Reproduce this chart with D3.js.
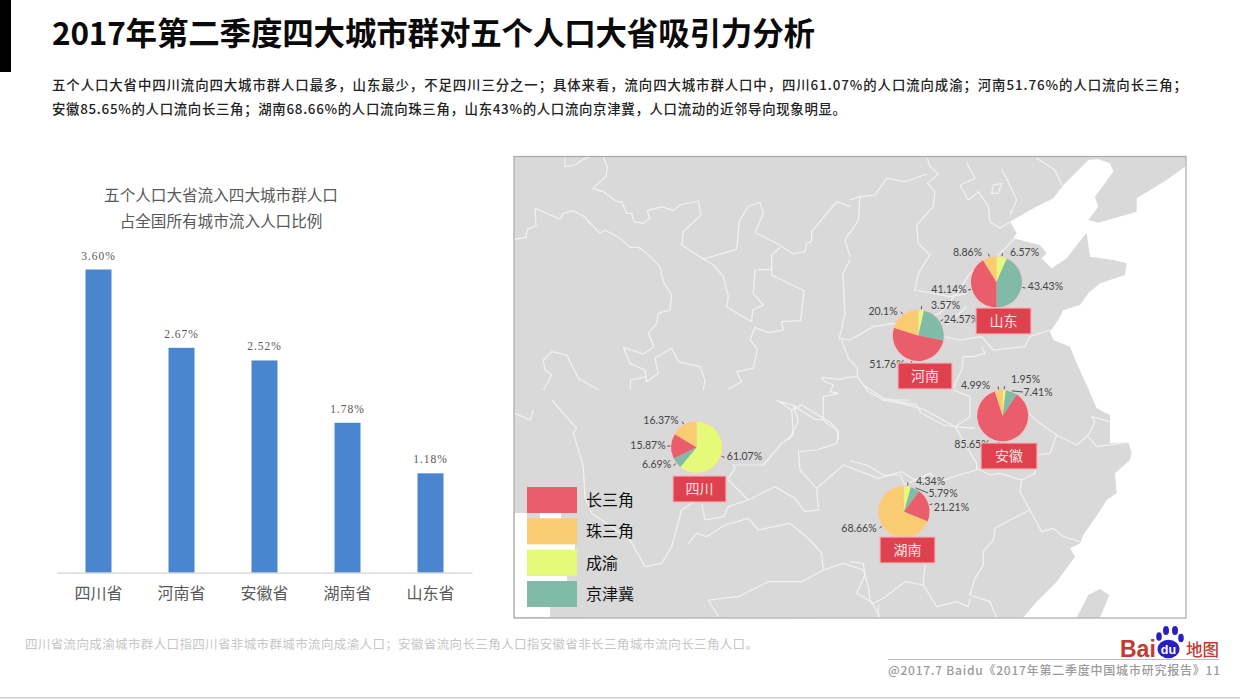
<!DOCTYPE html>
<html><head><meta charset="utf-8">
<script src="https://cdn.jsdelivr.net/npm/d3@7/dist/d3.min.js"></script>
<style>html,body{margin:0;padding:0;background:#fff;overflow:hidden}svg{display:block}text{font-family:"Noto Sans CJK SC",sans-serif}</style>
</head><body><svg id="c" width="1240" height="700"></svg>
<script>
// ---------- data ----------
const provinces = ["四川省","河南省","安徽省","湖南省","山东省"];
const shares = [3.60,2.67,2.52,1.78,1.18];
const shareLabels = ["3.60%","2.67%","2.52%","1.78%","1.18%"];
const regions = ["成渝","京津冀","长三角","珠三角"];
const legendOrder = ["长三角","珠三角","成渝","京津冀"];
const sichuan = [61.07,6.69,15.87,16.37];
const henan = [3.57,24.57,51.76,20.1];
const anhui = [1.95,7.41,85.65,4.99];
const hunan = [4.34,5.79,21.21,68.66];
const shandong = [6.57,43.43,41.14,8.86];

// ---------- layout ----------
const regionColor = d3.scaleOrdinal(regions,["#e6fa7a","#7fbba6","#ea5d6b","#f9cc72"]);
const pieLayout = [
 {name:"四川",v:sichuan,cx:696.7,cy:447.3,tag:[673,476,53,26],lab:[[744.5,456.5],[656.5,464],[648,445],[661,420]]},
 {name:"河南",v:henan,cx:918.3,cy:335.5,tag:[898,363,54,26],lab:[[945.5,305],[961.5,318.7],[887,364],[883,310.7]],far:[]},
 {name:"安徽",v:anhui,cx:1002.7,cy:415.7,tag:[981,443,56,26],lab:[[1025.5,379.5],[1038,392],[972,443.7],[975.5,385]],far:[1]},
 {name:"湖南",v:hunan,cx:904,cy:511.7,tag:[880,537,55,26],lab:[[930.5,481],[943,493],[951.5,507.5],[859,528]],far:[1]},
 {name:"山东",v:shandong,cx:996.5,cy:282,tag:[976,308,55,26],lab:[[1024.5,252],[1045.5,286],[949,288.7],[967.5,252]]}
];
const R = 25.5;

// map backdrop outlines; [originX, originY] + points at 3x
const land = [[514,157,[[0,0],[2016,0]]],
 [850,150,[[1005,50],[950,90],[860,145],[860,185],[745,218],[715,210],[745,170],[735,140],[790,65],[780,40],[745,28],[715,30],[640,105],[610,145],[550,175],[480,215],[500,250],[490,265],[570,285],[590,310],[575,325],[605,355],[650,325],[700,260],[710,250],[720,320],[790,330],[830,340],[825,375],[750,400],[715,430],[690,465],[640,480],[625,510],[600,545],[610,570],[660,590],[680,640],[710,705]]],
 [850,385,[[740,70],[780,90],[780,175],[835,172],[845,205],[840,225],[795,265],[800,325],[770,345],[745,385],[700,450],[690,475],[660,490],[675,515],[635,570],[620,590],[560,650],[520,697],[0,697]]],
 [514,157,[[0,1384]]]];
const taiwan = [850,385,[[680,698],[715,630],[750,612],[778,630],[750,698]]];
const borders = [
 [510,150,[[165,25],[165,50],[195,45],[220,28],[240,20]]],
 [510,150,[[280,22],[292,50],[288,80],[248,115],[280,125],[320,155],[335,155],[350,190],[365,190],[372,215],[400,220],[420,205],[412,182],[455,170],[490,182],[510,165],[565,153],[573,195],[520,245],[515,285],[580,327],[680,298],[688,215],[715,168],[750,157],[760,190],[735,248],[800,280],[850,312],[885,305],[890,280],[905,275],[905,245],[980,155],[1020,170]]],
 [510,150,[[12,268],[48,262],[52,238],[78,228],[75,175],[150,207],[160,190],[190,182],[220,198],[270,250],[285,240],[330,265],[360,292],[385,292],[410,310],[450,350],[460,395],[485,435],[480,480],[445,490],[440,520],[415,550],[432,590],[400,612],[340,592],[360,640],[405,660],[410,695],[445,670],[435,625],[485,595],[505,635],[570,650],[585,690],[580,720]]],
 [510,150,[[580,327],[610,345],[640,380],[655,440],[650,470],[690,495],[725,515],[728,480],[760,465],[730,430],[735,360],[785,358]]],
 [510,150,[[810,292],[785,315],[785,375],[882,422],[872,512],[815,515],[820,540],[775,548],[735,532],[720,570],[742,597],[730,655],[680,665],[695,695],[655,718]]],
 [510,150,[[100,720],[125,675],[105,660],[100,630],[125,605],[170,615],[205,685],[265,720]]],
 [510,150,[[360,720],[362,690],[410,680]]],
 [510,150,[[1020,245],[1005,270],[1020,320]]],
 [510,150,[[1020,330],[998,370],[1005,490],[988,565],[1020,570]]],
 [780,340,[[185,0],[205,55],[232,85],[232,110],[265,155],[310,180],[390,180]]],
 [780,340,[[232,110],[205,112],[180,118],[125,112],[135,125],[160,135],[150,155],[175,160],[130,170],[130,240],[105,238],[60,210],[40,195],[0,185]]],
 [780,340,[[130,240],[140,250],[175,270],[175,300]]],
 [780,340,[[40,195],[55,245],[25,300]]],
 [850,150,[[232,25],[240,50],[265,72],[232,100],[255,125],[250,170],[200,225],[205,280],[240,315],[205,370],[195,420],[300,440],[350,430]]],
 [850,150,[[0,150],[30,140],[75,135],[110,85],[165,95],[232,72]]],
 [850,150,[[30,140],[25,210],[0,250]]],
 [850,150,[[350,40],[375,85],[330,105],[355,150],[385,125],[415,170],[420,215],[450,235],[480,215]]],
 [850,150,[[430,105],[455,100],[445,130],[425,130],[430,105]]],
 [850,150,[[455,60],[470,85],[500,150],[480,195]]],
 [850,150,[[560,25],[615,60],[635,105]]],
 [850,150,[[500,260],[440,320],[360,370],[320,430],[270,490],[240,500]]],
 [850,150,[[350,470],[290,525]]],
 [850,150,[[0,570],[70,530],[130,520],[280,560],[330,570],[395,560],[430,600],[525,590],[540,560],[600,540]]],
 [850,150,[[395,590],[405,610],[370,620],[340,620],[335,660],[310,715]]],
 [850,385,[[40,0],[100,40],[200,60],[215,85],[280,120],[315,125],[360,95],[360,35],[310,15]]],
 [850,385,[[315,125],[380,235],[380,255],[325,270],[270,290],[240,265],[195,285],[165,300],[150,270],[100,270],[50,240],[0,228]]],
 [850,385,[[520,70],[570,115],[620,150],[600,205],[560,210],[555,265],[515,285],[510,320],[540,375],[470,410],[435,430],[430,465],[400,500],[400,540],[375,580],[360,630],[420,650],[440,697]]],
 [850,385,[[620,150],[680,180],[715,150],[735,110],[725,95],[780,110]]],
 [850,385,[[715,155],[740,185],[835,172]]],
 [850,385,[[540,375],[575,440],[610,430],[640,455],[690,470]]],
 [850,385,[[0,530],[40,535],[45,570],[20,625],[70,655],[100,640],[165,590],[220,600],[225,535]]],
 [850,385,[[220,600],[260,665],[320,650],[355,665],[360,640]]],
 [850,385,[[85,660],[85,697]]],
 [850,385,[[380,250],[420,270],[450,265],[515,285]]],
 [515,400,[[110,0],[185,85],[175,100],[205,200],[210,290],[230,340],[345,420],[390,500],[440,490],[470,440],[500,330],[530,310],[640,235],[660,205],[655,195],[745,195],[800,130],[835,105],[830,30],[785,0]]],
 [515,400,[[640,240],[700,300],[780,260],[840,295],[870,335],[910,330],[905,265],[985,195],[1090,235],[1160,215],[1200,240],[1260,240]]],
 [515,400,[[560,310],[570,360],[625,350],[640,320],[700,300]]],
 [515,400,[[520,430],[545,400],[575,410],[630,375],[700,355],[730,390],[825,370],[885,420],[920,460],[925,510],[860,545],[760,545],[720,565],[670,590],[580,600],[610,650]]],
 [515,400,[[925,510],[985,490],[1045,510],[1060,560],[1065,600],[1095,650]]],
 [515,400,[[850,150],[855,210],[905,265]]],
 [515,400,[[830,30],[860,15],[950,70],[970,100],[965,130],[905,150],[855,155]]],
 [515,400,[[0,40],[45,60],[55,30]]],
 [515,400,[[1100,0],[1160,10],[1230,30],[1320,80],[1380,85]]]
];
const legendGaps = [[515,513,12,94],[540,513,21,6],[527,544,48,6],[527,576,40,5],[515,607,35,10]];

const svg = d3.select("#c");
const unzoom = ([ox,oy,pts]) => pts.map(([x,y])=>[ox+x/3,oy+y/3]);
const line = d3.line();

// ---------- page furniture ----------
svg.append("rect").attr("x",0).attr("y",0).attr("width",11).attr("height",72).attr("fill","#000");
svg.append("text").attr("x",52).attr("y",45).attr("font-size",31.5).attr("font-weight",700).attr("fill","#0a0a0a").attr("textLength",763).text("2017年第二季度四大城市群对五个人口大省吸引力分析");
svg.append("text").attr("x",52).attr("y",90).attr("font-size",13.4).attr("font-weight",500).attr("fill","#222").attr("textLength",1135).text("五个人口大省中四川流向四大城市群人口最多，山东最少，不足四川三分之一；具体来看，流向四大城市群人口中，四川61.07%的人口流向成渝；河南51.76%的人口流向长三角；");
svg.append("text").attr("x",52).attr("y",114).attr("font-size",13.4).attr("font-weight",500).attr("fill","#222").attr("textLength",794).text("安徽85.65%的人口流向长三角；湖南68.66%的人口流向珠三角，山东43%的人口流向京津冀，人口流动的近邻导向现象明显。");

// ---------- bar chart ----------
const x = d3.scaleBand(provinces,[57,472]).paddingInner(0.687).paddingOuter(0.3435);
const y = d3.scaleLinear([0,3.6],[572.7,269.5]);
svg.append("text").attr("x",221).attr("y",201).attr("text-anchor","middle").attr("font-size",15.6).attr("fill","#595959").text("五个人口大省流入四大城市群人口");
svg.append("text").attr("x",221).attr("y",227).attr("text-anchor","middle").attr("font-size",15.6).attr("fill","#595959").text("占全国所有城市流入人口比例");
svg.selectAll(".bar").data(provinces).join("rect").attr("class","bar")
 .attr("x",d=>x(d)).attr("width",x.bandwidth())
 .attr("y",(d,i)=>y(shares[i])).attr("height",(d,i)=>y(0)-y(shares[i])).attr("fill","#4a86cf");
svg.selectAll(".barlab").data(provinces).join("text").attr("class","barlab")
 .attr("x",d=>x(d)+x.bandwidth()/2).attr("y",(d,i)=>y(shares[i])-10)
 .attr("text-anchor","middle").attr("font-size",11.5).attr("letter-spacing",1).attr("fill","#595959")
 .style("font-family","'Liberation Serif',serif").text((d,i)=>shareLabels[i]);
const ax = svg.append("g").attr("transform",`translate(0,${y(0)})`).call(d3.axisBottom(x).tickSize(0).tickPadding(15));
ax.select(".domain").attr("stroke","#d4d4d4").attr("stroke-width",1.2);
ax.selectAll("text").attr("font-size",16).attr("fill","#595959").style("font-family","'Noto Sans CJK SC',sans-serif");

// ---------- map ----------
const map = svg.append("g");
map.append("rect").attr("x",514).attr("y",157).attr("width",672).attr("height",461).attr("fill","#fff");
map.append("path").attr("d",line(land.flatMap(unzoom))+"Z").attr("fill","#d9d9d9");
map.append("path").attr("d",line(unzoom(taiwan))+"Z").attr("fill","#d9d9d9");
map.selectAll(".border").data(borders).join("path").attr("class","border").attr("d",d=>line(unzoom(d)))
 .attr("fill","none").attr("stroke","#f2f2f2").attr("stroke-width",1.2).attr("stroke-linejoin","round");
// white patches behind the legend
map.selectAll(".gap").data(legendGaps).join("rect").attr("class","gap").attr("x",d=>d[0]).attr("y",d=>d[1]).attr("width",d=>d[2]).attr("height",d=>d[3]).attr("fill","#fff");
map.append("rect").attr("x",514).attr("y",156.5).attr("width",672).attr("height",461.5).attr("fill","none").attr("stroke","#a8a8a8").attr("stroke-width",1.2);

// ---------- pies ----------
const pie = d3.pie().sort(null).value(d=>d);
const arc = d3.arc().innerRadius(0).outerRadius(R);
pieLayout.forEach(p=>{
 const g = svg.append("g");
 g.append("circle").attr("cx",p.cx).attr("cy",p.cy).attr("r",R+1.5).attr("fill","#f6c9cc").attr("opacity",.55);
 const slices = pie(p.v);
 g.selectAll(".s").data(slices).join("path").attr("transform",`translate(${p.cx},${p.cy})`)
  .attr("d",arc).attr("fill",(d,i)=>regionColor(regions[i]));
 slices.forEach((d,i)=>{
  const a=(d.startAngle+d.endAngle)/2, sx=Math.sin(a), sy=-Math.cos(a);
  const [lx,ly]=p.lab[i], far=(p.far||[]).includes(i);
  const ex= far ? lx-15 : p.cx+sx*(R+4), ey= far ? ly : p.cy+sy*(R+4);
  g.append("line").attr("x1",p.cx+sx*(R+1)).attr("y1",p.cy+sy*(R+1)).attr("x2",ex).attr("y2",ey).attr("stroke","#444").attr("stroke-width",.9);
  g.append("text").attr("x",lx).attr("y",ly+3.8).attr("text-anchor","middle").attr("font-size",10.5).attr("fill","#444")
   .style("font-family","Lato,sans-serif").text(p.v[i]+"%");
 });
 const [tx,ty,tw,th]=p.tag;
 g.append("rect").attr("x",tx).attr("y",ty).attr("width",tw).attr("height",th).attr("fill","#e0414f").attr("stroke","#f4b4b8").attr("stroke-width",1.2);
 g.append("text").attr("x",tx+tw/2).attr("y",ty+th/2+5).attr("text-anchor","middle").attr("font-size",14).attr("fill","#fbe3e3").text(p.name);
});

// ---------- legend ----------
const legY = d3.scalePoint(legendOrder,[487,581]);
svg.selectAll(".lr").data(legendOrder).join("rect").attr("class","lr").attr("x",527).attr("y",d=>legY(d)).attr("width",50).attr("height",26).attr("fill",d=>regionColor(d));
svg.selectAll(".lt").data(legendOrder).join("text").attr("class","lt").attr("x",586).attr("y",d=>legY(d)+19).attr("font-size",16).attr("fill","#111").text(d=>d);

// ---------- footer ----------
svg.append("text").attr("x",25).attr("y",649).attr("font-size",12.5).attr("fill","#c6c6c6").attr("textLength",733).text("四川省流向成渝城市群人口指四川省非城市群城市流向成渝人口；安徽省流向长三角人口指安徽省非长三角城市流向长三角人口。");
svg.append("line").attr("x1",888).attr("x2",1219).attr("y1",659.5).attr("y2",659.5).attr("stroke","#bdbdbd");
svg.append("text").attr("x",888).attr("y",675).attr("font-size",12).attr("font-weight",500).attr("fill","#9a9a9a").attr("textLength",332).text("@2017.7 Baidu《2017年第二季度中国城市研究报告》11");
svg.append("rect").attr("x",0).attr("y",697).attr("width",1240).attr("height",1.5).attr("fill","#cfcfcf");
// logo
const logo = svg.append("g");
logo.append("text").attr("x",1120).attr("y",656.5).attr("font-size",23).attr("font-weight",700).attr("fill","#c43a30").style("font-family","'Liberation Sans',sans-serif").text("Bai");
[[1159,636.5,2.8],[1166,630.5,3],[1175,630.5,3],[1181,638,2.8]].forEach(([a,b,r])=>logo.append("ellipse").attr("cx",a).attr("cy",b).attr("rx",r).attr("ry",r+1.5).attr("fill","#2a1fc0"));
logo.append("ellipse").attr("cx",1168.5).attr("cy",649).attr("rx",11).attr("ry",9.2).attr("fill","#2a1fc0");
logo.append("text").attr("x",1168.5).attr("y",654).attr("text-anchor","middle").attr("font-size",12.5).attr("font-weight",700).attr("fill","#fff").style("font-family","'Liberation Sans',sans-serif").text("du");
logo.append("text").attr("x",1186).attr("y",655.5).attr("font-size",16.5).attr("font-weight",500).attr("fill","#c43a30").text("地图");
</script></body></html>
